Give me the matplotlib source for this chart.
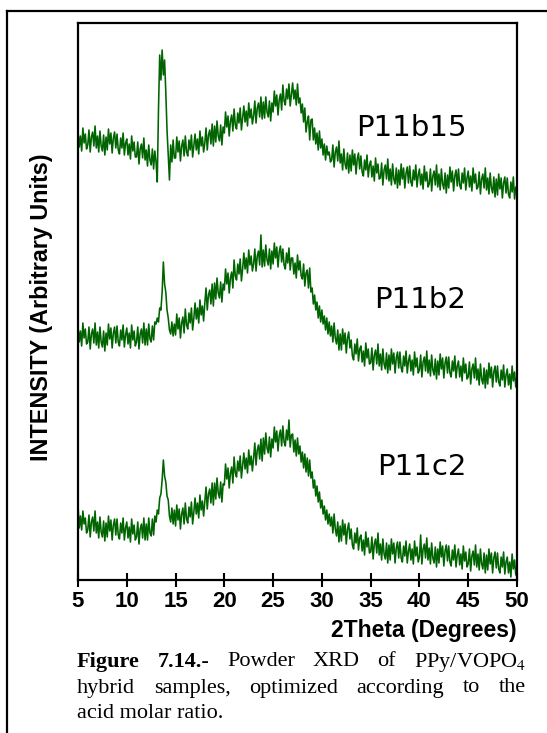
import numpy as np
import matplotlib
matplotlib.use("Agg")
import matplotlib.pyplot as plt
from matplotlib.lines import Line2D

# ---------------- data (arbitrary units) ----------------
two_theta_start = 5.0
two_theta_step = 0.125   # one row below = one degree

p11b15 = [
    449, 433, 444, 429, 452, 437, 446, 431,
    435, 450, 428, 443, 448, 434, 454, 432,
    444, 428, 449, 434, 429, 445, 425, 443,
    430, 451, 436, 447, 427, 442, 448, 432,
    446, 430, 426, 442, 432, 447, 425, 437,
    441, 425, 436, 421, 444, 429, 438, 423,
    423, 438, 416, 431, 436, 422, 442, 420,
    430, 414, 435, 420, 415, 431, 411, 429,
    418, 398, 470, 525, 500, 530, 505, 520,
    488, 450, 425, 400, 435, 418, 440, 422,
    422, 443, 428, 439, 419, 434, 440, 424,
    444, 428, 424, 440, 430, 445, 423, 435,
    446, 430, 441, 426, 449, 434, 443, 428,
    437, 452, 430, 445, 450, 436, 456, 434,
    454, 438, 459, 444, 439, 455, 435, 453,
    447, 468, 453, 464, 444, 459, 465, 449,
    471, 455, 451, 467, 457, 472, 450, 462,
    474, 458, 469, 454, 477, 462, 471, 456,
    464, 479, 457, 472, 477, 463, 483, 461,
    478, 462, 483, 468, 463, 479, 459, 477,
    468, 489, 474, 485, 465, 480, 486, 470,
    495, 479, 475, 491, 481, 496, 474, 486,
    497, 481, 490, 475, 496, 477, 482, 467,
    476, 458, 472, 448, 458, 464, 440, 460,
    461, 440, 452, 436, 447, 430, 449, 432,
    441, 425, 436, 420, 434, 425, 428, 418,
    420, 435, 413, 428, 433, 419, 439, 417,
    426, 410, 431, 416, 411, 427, 407, 425,
    409, 430, 415, 426, 406, 421, 427, 411,
    424, 408, 404, 420, 410, 425, 403, 415,
    419, 403, 414, 399, 422, 407, 416, 401,
    402, 417, 395, 410, 415, 401, 421, 399,
    411, 395, 416, 401, 396, 412, 392, 410,
    395, 416, 401, 412, 392, 407, 413, 397,
    414, 398, 394, 410, 400, 415, 393, 405,
    411, 395, 406, 391, 414, 399, 408, 393,
    396, 411, 389, 404, 409, 395, 415, 393,
    406, 390, 411, 396, 391, 407, 387, 405,
    392, 413, 398, 409, 389, 404, 410, 394,
    411, 395, 391, 407, 397, 412, 390, 402,
    409, 393, 404, 389, 412, 397, 406, 391,
    393, 408, 386, 401, 406, 392, 412, 390,
    402, 386, 407, 392, 387, 403, 383, 401,
    385, 406, 391, 402, 382, 397, 403, 387,
    402, 386, 382, 398, 388, 403, 381, 393,
    386,
]

p11b2 = [
    254, 238, 249, 234, 257, 242, 251, 236,
    238, 253, 231, 246, 251, 237, 257, 235,
    248, 232, 253, 238, 233, 249, 229, 247,
    235, 256, 241, 252, 232, 247, 253, 237,
    254, 238, 234, 250, 240, 255, 233, 245,
    252, 236, 247, 232, 255, 240, 249, 234,
    238, 253, 231, 246, 251, 237, 257, 235,
    251, 235, 256, 241, 238, 254, 240, 258,
    256, 262, 258, 272, 270, 288, 318, 296,
    288, 270, 262, 250, 246, 258, 244, 256,
    245, 266, 251, 262, 242, 257, 263, 247,
    271, 255, 251, 267, 257, 272, 250, 262,
    277, 261, 272, 257, 280, 265, 274, 259,
    277, 292, 270, 285, 290, 276, 296, 274,
    297, 281, 302, 287, 282, 298, 278, 296,
    290, 311, 296, 307, 287, 302, 308, 292,
    320, 304, 300, 316, 306, 321, 299, 311,
    327, 311, 322, 307, 330, 315, 324, 309,
    316, 331, 309, 324, 329, 315, 345, 313,
    330, 314, 335, 320, 315, 331, 311, 329,
    316, 337, 322, 333, 313, 328, 334, 318,
    331, 315, 311, 327, 317, 332, 310, 322,
    322, 306, 317, 302, 325, 310, 319, 304,
    301, 316, 294, 307, 310, 292, 312, 288,
    292, 276, 285, 270, 278, 262, 274, 258,
    270, 256, 264, 250, 262, 246, 258, 244,
    254, 238, 257, 242, 236, 250, 230, 246,
    230, 251, 236, 247, 227, 242, 248, 232,
    240, 224, 220, 236, 226, 241, 219, 231,
    234, 218, 229, 214, 237, 222, 231, 216,
    217, 232, 210, 225, 230, 216, 236, 214,
    226, 210, 231, 216, 211, 227, 207, 225,
    210, 231, 216, 227, 207, 222, 228, 212,
    228, 212, 208, 224, 214, 229, 207, 219,
    225, 209, 220, 205, 228, 213, 222, 207,
    210, 225, 203, 218, 223, 209, 229, 207,
    220, 204, 225, 210, 205, 221, 201, 219,
    205, 226, 211, 222, 202, 217, 223, 207,
    223, 207, 203, 219, 209, 224, 202, 214,
    219, 203, 214, 199, 222, 207, 216, 201,
    203, 218, 196, 211, 216, 202, 222, 200,
    211, 195, 216, 201, 196, 212, 192, 210,
    196, 217, 202, 213, 193, 208, 214, 198,
    214, 198, 194, 210, 200, 215, 193, 205,
    211, 195, 206, 191, 214, 199, 208, 193,
    204,
]

p11c2 = [
    75, 52, 64, 50, 69, 56, 62, 47,
    50, 65, 43, 58, 63, 49, 69, 47,
    58, 42, 63, 48, 43, 59, 39, 57,
    43, 64, 49, 60, 40, 55, 61, 45,
    61, 45, 41, 57, 47, 62, 40, 52,
    58, 42, 53, 38, 61, 46, 55, 40,
    43, 58, 36, 51, 56, 42, 62, 40,
    56, 40, 62, 47, 44, 61, 45, 64,
    58, 70, 66, 82, 86, 100, 120, 104,
    98, 84, 80, 64, 58, 72, 56, 70,
    54, 75, 60, 71, 51, 66, 72, 56,
    77, 61, 57, 73, 63, 78, 56, 68,
    82, 66, 77, 62, 85, 70, 79, 64,
    78, 93, 71, 86, 91, 77, 97, 75,
    97, 81, 102, 87, 82, 98, 78, 96,
    95, 116, 101, 112, 92, 107, 113, 97,
    123, 107, 103, 119, 109, 124, 102, 114,
    127, 111, 122, 107, 130, 115, 124, 109,
    122, 137, 115, 130, 135, 121, 141, 119,
    142, 126, 147, 132, 127, 143, 123, 141,
    132, 153, 138, 149, 129, 144, 150, 134,
    154, 138, 134, 150, 140, 160, 133, 145,
    146, 128, 140, 124, 142, 126, 134, 118,
    128, 112, 126, 108, 122, 104, 120, 102,
    108, 92, 100, 84, 94, 78, 88, 72,
    80, 66, 74, 60, 70, 56, 66, 54,
    63, 47, 66, 51, 44, 58, 38, 54,
    39, 60, 45, 56, 36, 51, 57, 41,
    51, 35, 31, 47, 37, 52, 30, 42,
    45, 29, 40, 25, 48, 33, 42, 27,
    28, 43, 21, 36, 41, 27, 47, 25,
    36, 20, 41, 26, 21, 37, 17, 35,
    20, 41, 26, 37, 17, 32, 38, 22,
    38, 22, 18, 34, 24, 39, 17, 29,
    36, 20, 31, 16, 39, 24, 33, 18,
    23, 45, 16, 31, 36, 22, 42, 20,
    32, 16, 37, 22, 17, 33, 13, 31,
    17, 38, 23, 34, 14, 29, 35, 19,
    34, 18, 14, 30, 20, 35, 13, 25,
    31, 15, 26, 11, 34, 19, 28, 13,
    16, 31, 9, 24, 29, 15, 35, 13,
    26, 10, 31, 16, 11, 27, 7, 25,
    10, 31, 16, 27, 7, 22, 28, 12,
    27, 11, 7, 23, 13, 28, 6, 18,
    23, 7, 18, 3, 26, 11, 20, 5,
    14,
]

series_names = ["P11b15", "P11b2", "P11c2"]
label_levels = [452, 280, 113]
x_ticks = [5, 10, 15, 20, 25, 30, 35, 40, 45, 50]

# ---------------- figure ----------------
W, H = 547, 733
fig = plt.figure(figsize=(W / 100, H / 100), dpi=100)

# outer frame (left + top lines)
fig.add_artist(Line2D([7 / W, 7 / W], [0, 1 - 11 / H], color="black", lw=1.6,
                      transform=fig.transFigure))
fig.add_artist(Line2D([7 / W, 1], [1 - 11 / H, 1 - 11 / H], color="black", lw=1.6,
                      transform=fig.transFigure))

ax_l, ax_r, ax_t, ax_b = 78, 517, 23, 580
ax = fig.add_axes([ax_l / W, 1 - ax_b / H, (ax_r - ax_l) / W, (ax_b - ax_t) / H])

green = "#006400"
for ys in (p11b15, p11b2, p11c2):
    xs = two_theta_start + two_theta_step * np.arange(len(ys))
    ax.plot(xs, ys, color=green, lw=1.15)

ax.set_xlim(5, 50)
ax.set_ylim(0, 557)
ax.set_yticks([])
ax.set_xticks(x_ticks)
ax.set_xticklabels([str(t) for t in x_ticks], fontfamily="Liberation Sans",
                   fontweight="bold", fontsize=16)
ax.tick_params(axis="x", direction="inout", length=10, width=1.5, pad=3)
for s in ax.spines.values():
    s.set_linewidth(1.6)

for name, lvl in zip(series_names, label_levels):
    ax.text(44.8, lvl, name, ha="right", va="center", fontsize=21,
            fontfamily="DejaVu Sans")

fig.text(42 / W, 1 - 307 / H, "INTENSITY (Arbitrary Units)", rotation=90,
         ha="center", va="center", fontfamily="Liberation Sans",
         fontweight="bold", fontsize=16.8)
fig.text(517 / W, 1 - 631 / H, "2Theta (Degrees)", ha="right", va="center",
         fontfamily="Liberation Sans", fontweight="bold", fontsize=16.5)

# ---------------- caption (justified) ----------------
plt.rcParams["mathtext.fontset"] = "stix"
cap_left, cap_right = 77, 526
cap_lines = [
    ([("Figure", True), ("7.14.-", True), ("Powder", False), ("XRD", False),
      ("of", False), ("PPy/VOPO$_4$", False)], 662, True),
    ([("hybrid", False), ("samples,", False), ("optimized", False),
      ("according", False), ("to", False), ("the", False)], 688, True),
    ([("acid molar ratio.", False)], 713, False),
]
fig.canvas.draw()
renderer = fig.canvas.get_renderer()
for words, ypix, justify in cap_lines:
    arts = []
    for w, b in words:
        t = fig.text(0, 1 - ypix / H, w, ha="left", va="center", fontsize=16,
                     fontfamily="Liberation Serif",
                     fontweight="bold" if b else "normal")
        arts.append(t)
    widths = [a.get_window_extent(renderer).width for a in arts]
    if justify and len(arts) > 1:
        gap = (cap_right - cap_left - sum(widths)) / (len(arts) - 1)
    else:
        gap = 0
    x = cap_left
    for a, wd in zip(arts, widths):
        a.set_x(x / W)
        x += wd + gap

fig.savefig("out.png", dpi=100)
